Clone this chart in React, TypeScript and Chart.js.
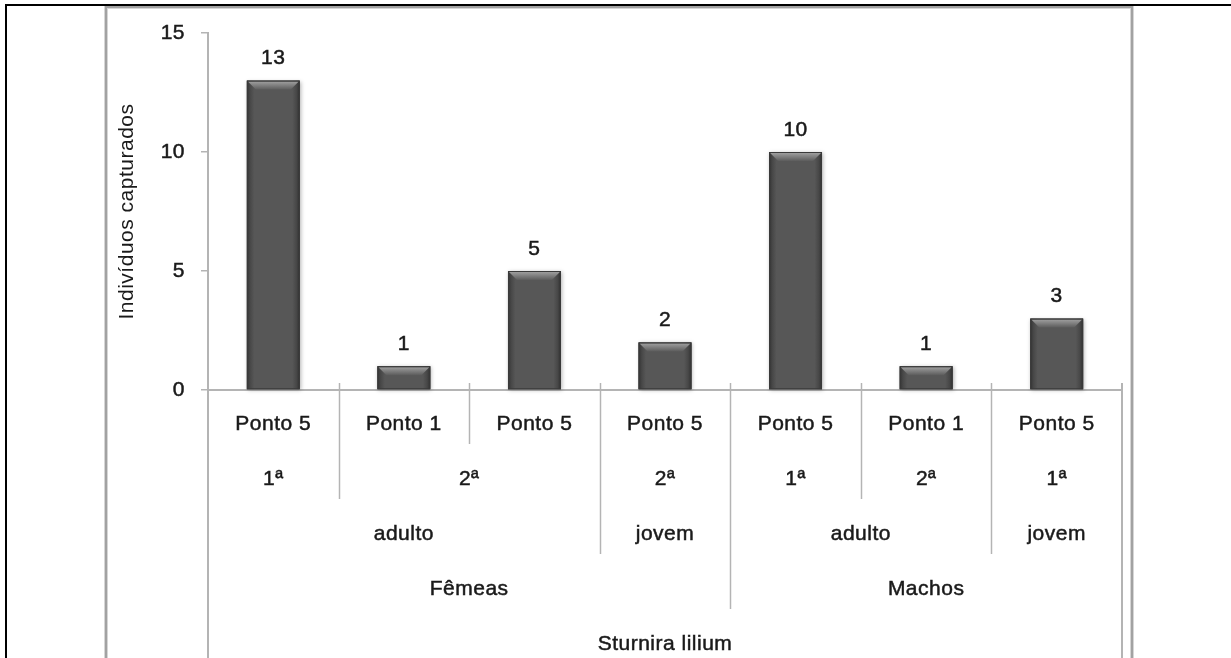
import { useEffect, useRef } from "react";
import { Chart, registerables } from "chart.js";

Chart.register(...registerables);

// Category levels, innermost first
const pontos = ["Ponto 5", "Ponto 1", "Ponto 5", "Ponto 5", "Ponto 5", "Ponto 1", "Ponto 5"];
const campanhas = ["1ª", "2ª", "2ª", "2ª", "1ª", "2ª", "1ª"];
const idades = ["adulto", "adulto", "adulto", "jovem", "adulto", "adulto", "jovem"];
const sexos = ["Fêmeas", "Fêmeas", "Fêmeas", "Fêmeas", "Machos", "Machos", "Machos"];
const especies = [
  "Sturnira lilium",
  "Sturnira lilium",
  "Sturnira lilium",
  "Sturnira lilium",
  "Sturnira lilium",
  "Sturnira lilium",
  "Sturnira lilium",
];

const capturados = [13, 1, 5, 2, 10, 1, 3];
const yTicks = [0, 5, 10, 15];
const yTitle = "Indivíduos capturados";

const levels = [pontos, campanhas, idades, sexos, especies];

const FONT = "'Liberation Sans', Arial, sans-serif";
const SIZE = 21;
const TEXT = "#1a1a1a";
const AXIS = "#b4b4b4";
const ROW_H = 55;
const LABEL_OFFSET = 34;
const SPACING = "0.5px";

const spacingPlugin = {
  id: "spacing",
  beforeLayout(chart: any) {
    chart.ctx.letterSpacing = SPACING;
  },
  beforeDraw(chart: any) {
    chart.ctx.letterSpacing = SPACING;
  },
};

function label(ctx: CanvasRenderingContext2D, text: string, x: number, y: number) {
  ctx.fillText(text, x, y);
  ctx.strokeText(text, x, y);
}

// Page frame: white ground, black cell border, grey chart outline
const framePlugin = {
  id: "frame",
  beforeDraw(chart: any) {
    const { ctx, width, height } = chart;
    ctx.save();
    ctx.fillStyle = "#ffffff";
    ctx.fillRect(0, 0, width, height);
    ctx.strokeStyle = "#d6d6d6";
    ctx.lineWidth = 4;
    ctx.strokeRect(106, 7, 1026, height + 20);
    ctx.strokeStyle = "#a2a2a2";
    ctx.lineWidth = 2;
    ctx.strokeRect(106, 7, 1026, height + 20);
    ctx.fillStyle = "#000000";
    ctx.fillRect(5, 4, width - 5, 2);
    ctx.fillRect(5, 4, 2, height - 4);
    ctx.restore();
  },
};

// Multi-level category labels and their separators
const categoryPlugin = {
  id: "multiLevel",
  afterDraw(chart: any) {
    const { ctx, chartArea } = chart;
    const xs = chart.scales.x;
    const n = pontos.length;
    const bottom = chartArea.bottom;
    const half = (xs.getPixelForValue(1) - xs.getPixelForValue(0)) / 2;
    ctx.save();
    ctx.letterSpacing = SPACING;

    // separators
    ctx.strokeStyle = AXIS;
    ctx.lineWidth = 1.5;
    const boundary = (i: number) => xs.getPixelForValue(i) + half;
    for (let i = 0; i < n - 1; i++) {
      let deepest = -1;
      levels.forEach((lv, k) => {
        if (lv[i] !== lv[i + 1]) deepest = k;
      });
      const x = Math.round(boundary(i)) + 0.5;
      ctx.beginPath();
      ctx.moveTo(x, bottom - 7);
      ctx.lineTo(x, bottom + ROW_H * (deepest + 1) - 1);
      ctx.stroke();
    }
    // outer ends
    ctx.lineWidth = 2;
    const xl = chartArea.left;
    const xr = Math.round(boundary(n - 1));
    ctx.beginPath();
    ctx.moveTo(xl, bottom);
    ctx.lineTo(xl, chart.height);
    ctx.moveTo(xr, bottom - 7);
    ctx.lineTo(xr, chart.height);
    ctx.stroke();

    // labels
    ctx.fillStyle = TEXT;
    ctx.strokeStyle = TEXT;
    ctx.lineWidth = 0.5;
    ctx.font = `${SIZE}px ${FONT}`;
    ctx.textAlign = "center";
    ctx.textBaseline = "middle";
    levels.forEach((lv, k) => {
      let start = 0;
      for (let i = 1; i <= n; i++) {
        let same = i < n;
        if (same) {
          for (let j = k; j < levels.length; j++) {
            if (levels[j][i] !== levels[j][i - 1]) same = false;
          }
        }
        if (!same) {
          const x0 = xs.getPixelForValue(start) - half;
          const x1 = xs.getPixelForValue(i - 1) + half;
          label(ctx, lv[start], (x0 + x1) / 2, bottom + ROW_H * k + LABEL_OFFSET);
          start = i;
        }
      }
    });
    ctx.restore();
  },
};

// Shaded bar bodies with bevelled tops and value labels
const barPlugin = {
  id: "barShade",
  afterDatasetsDraw(chart: any) {
    const ctx = chart.ctx;
    const meta = chart.getDatasetMeta(0);
    meta.data.forEach((bar: any, i: number) => {
      const { x, y, base, width } = bar.getProps(["x", "y", "base", "width"], true);
      const l = x - width / 2;
      const r = x + width / 2;
      const h = base - y;
      ctx.save();
      ctx.shadowColor = "rgba(0,0,0,0.30)";
      ctx.shadowBlur = 4;
      ctx.shadowOffsetX = 1;
      ctx.shadowOffsetY = 1;
      const g = ctx.createLinearGradient(l, 0, r, 0);
      g.addColorStop(0, "#333333");
      g.addColorStop(0.06, "#474747");
      g.addColorStop(0.14, "#575757");
      g.addColorStop(0.86, "#575757");
      g.addColorStop(0.94, "#474747");
      g.addColorStop(1, "#303030");
      ctx.fillStyle = g;
      ctx.fillRect(l, y, width, h);
      ctx.restore();

      ctx.save();
      const bv = Math.min(9, h / 2.5);
      const tg = ctx.createLinearGradient(0, y, 0, y + bv);
      tg.addColorStop(0, "#a6a6a6");
      tg.addColorStop(1, "#5c5c5c");
      ctx.fillStyle = tg;
      ctx.beginPath();
      ctx.moveTo(l + 1, y + 1);
      ctx.lineTo(r - 1, y + 1);
      ctx.lineTo(r - bv, y + bv);
      ctx.lineTo(l + bv, y + bv);
      ctx.closePath();
      ctx.fill();
      ctx.strokeStyle = "#3a3a3a";
      ctx.lineWidth = 1;
      ctx.strokeRect(l + 0.5, y + 0.5, width - 1, h - 1);
      ctx.restore();

      ctx.save();
      ctx.letterSpacing = SPACING;
      ctx.fillStyle = TEXT;
      ctx.strokeStyle = TEXT;
      ctx.lineWidth = 0.5;
      ctx.font = `${SIZE}px ${FONT}`;
      ctx.textAlign = "center";
      ctx.textBaseline = "middle";
      label(ctx, String(capturados[i]), x, y - 22);
      ctx.restore();
    });
  },
};

export default function App() {
  const ref = useRef<HTMLCanvasElement | null>(null);

  useEffect(() => {
    document.body.style.margin = "0";
    const canvas = ref.current;
    if (!canvas) return;
    const chart = new Chart(canvas, {
      type: "bar",
      data: {
        labels: pontos.map((p, i) => `${p} ${campanhas[i]}`),
        datasets: [
          {
            data: capturados,
            backgroundColor: "#555555",
            borderWidth: 0,
            barPercentage: 0.405,
            categoryPercentage: 1,
          },
        ],
      },
      options: {
        animation: false,
        responsive: false,
        devicePixelRatio: 1,
        layout: { padding: { top: 33, right: 109, left: 0, bottom: 0 } },
        font: { family: FONT, size: SIZE },
        plugins: {
          legend: { display: false },
          tooltip: { enabled: false },
        },
        scales: {
          x: {
            type: "category",
            grid: { display: false },
            border: { display: true, color: AXIS, width: 2 },
            ticks: { display: false },
            afterFit(s: any) {
              s.height = 268;
            },
          },
          y: {
            min: 0,
            max: 15,
            afterBuildTicks(s: any) {
              s.ticks = yTicks.map((v) => ({ value: v }));
            },
            ticks: {
              padding: 16,
              color: TEXT,
              font: { family: FONT, size: SIZE },
              textStrokeColor: TEXT,
              textStrokeWidth: 0.5,
            },
            grid: {
              display: true,
              drawOnChartArea: false,
              drawTicks: true,
              tickLength: 7,
              color: AXIS,
              lineWidth: 1.5,
            },
            border: { display: true, color: AXIS, width: 2 },
            title: {
              display: true,
              text: yTitle,
              color: TEXT,
              font: { family: FONT, size: SIZE },
              padding: { top: 115, bottom: 0 },
            },
            afterFit(s: any) {
              s.width = 208;
            },
          },
        },
      } as any,
      plugins: [spacingPlugin, framePlugin, barPlugin, categoryPlugin],
    });
    return () => chart.destroy();
  }, []);

  return (
    <div style={{ position: "fixed", left: 0, top: 0, width: 1231, height: 658 }}>
      <canvas ref={ref} width={1231} height={658} style={{ display: "block" }} />
    </div>
  );
}
